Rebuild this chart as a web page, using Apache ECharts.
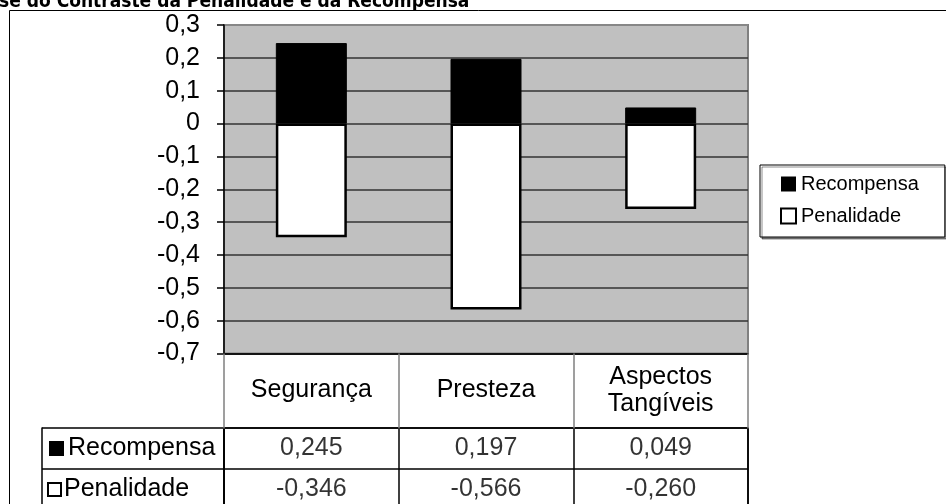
<!DOCTYPE html>
<html>
<head>
<meta charset="utf-8">
<script src="https://cdn.jsdelivr.net/npm/echarts@6/dist/echarts.min.js"></script>
<style>
  html, body { margin: 0; padding: 0; background: #fff; }
  #chart { width: 946px; height: 504px; }
</style>
</head>
<body>
<div id="chart"></div>
<script>
// Chart data
const categories = ['Segurança', 'Presteza', 'Aspectos Tangíveis'];
const recompensa = [0.245, 0.197, 0.049];
const penalidade = [-0.346, -0.566, -0.260];
const tableRows = ['Recompensa', 'Penalidade'];
const titleText = 'se do Contraste da Penalidade e da Recompensa';
const yMin = -0.7, yMax = 0.3, yStep = 0.1;

const FONT = "'Liberation Sans', Arial, sans-serif";
const comma = (v, d) => v.toFixed(d).replace('.', ',');

// value table cells: [category, row, value]
const cells = [];
categories.forEach((c, i) => {
  cells.push([c, 'Recompensa', recompensa[i]]);
  cells.push([c, 'Penalidade', penalidade[i]]);
});

// split lines: dark inside, lighter at top edge
const splitColors = [];
for (let i = 0; i < 10; i++) splitColors.push('#333');
splitColors.push('#8a8a8a');

const chart = echarts.init(document.getElementById('chart'), null, { renderer: 'canvas' });
chart.setOption({
  animation: false,
  backgroundColor: '#fff',
  textStyle: { fontFamily: FONT, color: '#000' },
  graphic: [
    { type: 'rect', silent: true, z: 0,
      shape: { x: 9.5, y: 10.5, width: 1000, height: 600 },
      style: { fill: 'none', stroke: '#000', lineWidth: 1 } },
    { type: 'text', silent: true, z: 10, x: -1, y: 12,
      style: { text: titleText, fill: '#000', font: "bold 19px 'DejaVu Sans Condensed', 'Liberation Sans', sans-serif",
               textAlign: 'left', textVerticalAlign: 'bottom' } }
  ],
  legend: {
    left: 760, top: 165, orient: 'vertical',
    itemWidth: 15, itemHeight: 15, itemGap: 12,
    padding: [9, 26, 11, 20],
    backgroundColor: '#fff', borderColor: '#000', borderWidth: 1,
    shadowColor: 'rgba(0,0,0,0.45)', shadowOffsetX: 2, shadowOffsetY: 2, shadowBlur: 0,
    textStyle: { fontSize: 20, color: '#000', fontFamily: FONT },
    data: [
      { name: 'Recompensa', icon: 'rect', itemStyle: { color: '#000', borderWidth: 0 } },
      { name: 'Penalidade', icon: 'rect', itemStyle: { color: '#fff', borderColor: '#000', borderWidth: 2 } }
    ]
  },
  grid: [
    { left: 224, width: 524, top: 25, height: 328.5, show: true, outerBoundsMode: 'none',
      backgroundColor: '#c0c0c0', borderColor: '#808080', borderWidth: 2 },
    { left: 224, width: 524, top: 428, height: 82, show: true, outerBoundsMode: 'none',
      backgroundColor: 'transparent', borderColor: '#000', borderWidth: 1.5 }
  ],
  xAxis: [
    { gridIndex: 0, type: 'category', data: categories,
      axisLine: { onZero: false, lineStyle: { color: '#000', width: 1.5 } },
      axisTick: { show: true, length: 75, lineStyle: { color: '#808080', width: 1.5 } },
      axisLabel: { margin: 37, verticalAlign: 'middle', fontSize: 25, lineHeight: 27, color: '#000',
                   formatter: v => v.replace(' ', '\n') },
      splitLine: { show: false } },
    { gridIndex: 1, type: 'category', data: categories,
      axisLine: { show: true, lineStyle: { color: '#000', width: 1.5 } },
      axisTick: { show: false }, axisLabel: { show: false },
      splitLine: { show: true, lineStyle: { color: '#000', width: 1.5 } } }
  ],
  yAxis: [
    { gridIndex: 0, type: 'value', min: yMin, max: yMax, interval: yStep,
      axisLine: { show: true, lineStyle: { color: '#000', width: 1.5 } },
      axisTick: { show: true, length: 7, lineStyle: { color: '#000', width: 1.5 } },
      axisLabel: { margin: 24, fontSize: 25, color: '#000',
                   formatter: v => (Math.abs(v) < 1e-9 ? '0' : comma(v, 1)) },
      splitLine: { show: true, lineStyle: { color: splitColors, width: 1.5 } } },
    { gridIndex: 1, type: 'category', data: tableRows, inverse: true, position: 'left',
      axisLine: { show: true, lineStyle: { color: '#000', width: 1.5 } },
      axisTick: { show: true, length: 182, lineStyle: { color: '#000', width: 1.5 } },
      axisLabel: {
        align: 'left', margin: 175, color: '#000',
        formatter: v => (v === 'Recompensa' ? '{rk|}' : '{pk|}') + '{t|' + v + '}',
        rich: {
          rk: { width: 15, height: 15, backgroundColor: '#000' },
          pk: { width: 11, height: 11, backgroundColor: '#fff', borderColor: '#000', borderWidth: 2 },
          t: { fontSize: 25, color: '#000', padding: [0, 0, 0, 4], fontFamily: FONT }
        }
      },
      splitLine: { show: true, lineStyle: { color: '#000', width: 1.5 } } },
    { gridIndex: 1, type: 'category', data: tableRows, inverse: true, position: 'left', offset: 182,
      axisLine: { show: true, lineStyle: { color: '#000', width: 1.5 } },
      axisTick: { show: false }, axisLabel: { show: false }, splitLine: { show: false } }
  ],
  series: [
    { name: 'Recompensa', type: 'bar', xAxisIndex: 0, yAxisIndex: 0,
      data: recompensa, barWidth: 71, barGap: '-100%',
      itemStyle: { color: '#000', borderColor: '#000', borderWidth: 1 } },
    { name: 'Penalidade', type: 'bar', xAxisIndex: 0, yAxisIndex: 0,
      data: penalidade, barWidth: 71, barGap: '-100%',
      itemStyle: { color: '#fff', borderColor: '#000', borderWidth: 2.5 } },
    { name: 'tabela', type: 'scatter', xAxisIndex: 1, yAxisIndex: 1,
      data: cells, symbolSize: 1, silent: true,
      itemStyle: { color: 'transparent' },
      label: { show: true, position: 'inside', fontSize: 25, color: '#000', fontFamily: FONT,
               formatter: p => comma(p.value[2], 3) } }
  ]
});
</script>
</body>
</html>
